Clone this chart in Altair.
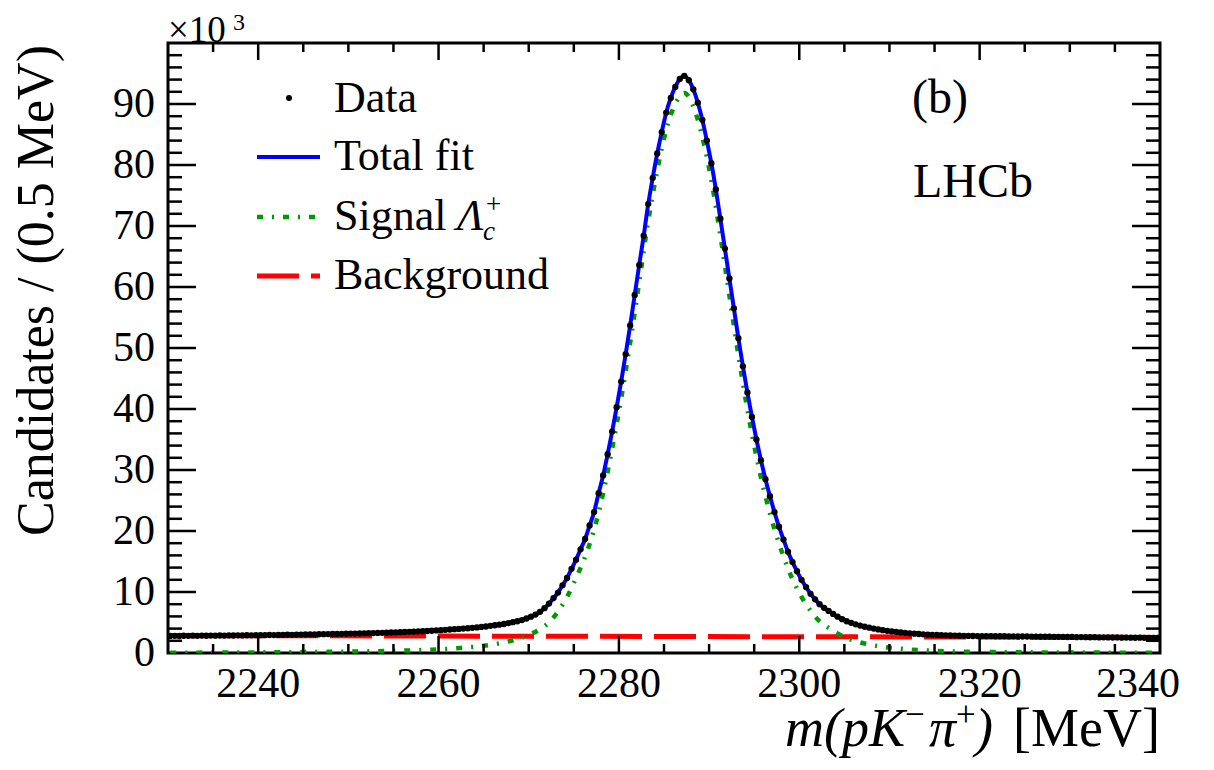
import altair as alt
import pandas as pd

# ---------------- data (values in units of 10^3 candidates) ----------------
bin_first = 2230.25   # centre of first 0.5 MeV bin
bin_width = 0.5
data_counts = [
    2.80, 2.82, 2.79, 2.83, 2.81, 2.84, 2.82, 2.85, 2.83, 2.86, 2.84, 2.87, 2.86, 2.88, 2.87, 2.90, 2.88, 2.91, 2.90, 2.92,
    2.93, 2.92, 2.95, 2.94, 2.97, 2.96, 2.99, 2.98, 3.01, 3.02, 3.03, 3.05, 3.04, 3.07, 3.08, 3.10, 3.11, 3.13, 3.14, 3.16,
    3.18, 3.19, 3.21, 3.23, 3.25, 3.27, 3.29, 3.31, 3.33, 3.36, 3.38, 3.41, 3.44, 3.47, 3.50, 3.54, 3.57, 3.61, 3.65, 3.70,
    3.75, 3.80, 3.85, 3.90, 3.95, 4.00, 4.06, 4.12, 4.19, 4.27,
    4.35, 4.45, 4.55, 4.65, 4.75, 4.90, 5.05, 5.20, 5.40, 5.65,
    5.95, 6.30, 6.75, 7.35, 8.10, 9.00, 9.90, 11.1, 12.3, 13.8, 15.3, 17.0, 18.7, 20.9, 23.1, 26.2, 29.1, 32.6, 36.3, 40.3,
    44.5, 49.0, 53.7, 58.7, 63.6, 68.4, 73.6, 77.9, 81.9, 85.4, 88.6, 91.0, 92.8, 94.1, 94.6, 93.9, 92.4, 90.2, 87.4, 84.0,
    80.3, 76.0, 71.2, 66.3, 61.4, 56.5, 51.6, 47.0, 42.7, 38.7, 35.0, 31.6, 28.5, 25.7, 23.1, 20.7, 18.6, 16.6, 14.9, 13.4,
    12.0, 10.8, 9.7, 8.8, 8.0, 7.4, 6.9, 6.4, 5.95, 5.55, 5.20, 4.95, 4.70, 4.50, 4.30, 4.15, 4.00, 3.87, 3.75, 3.64,
    3.54, 3.45, 3.37, 3.30, 3.23, 3.17, 3.11, 3.06, 3.02, 2.98, 2.95, 2.92, 2.90, 2.87, 2.85, 2.83, 2.82, 2.80, 2.79, 2.78,
    2.77, 2.76, 2.78, 2.75, 2.74, 2.75, 2.72, 2.73, 2.71, 2.70, 2.71, 2.68, 2.69, 2.67, 2.66, 2.67, 2.64, 2.65, 2.63, 2.62,
    2.63, 2.60, 2.61, 2.59, 2.58, 2.59, 2.56, 2.57, 2.55, 2.54, 2.55, 2.52, 2.53, 2.51, 2.50, 2.51, 2.48, 2.49, 2.47, 2.46,
]

signal_first = 2230.25
signal_step = 1.0
signal_vals = [
    0.05, 0.05, 0.06, 0.06, 0.07, 0.07, 0.08, 0.08, 0.09, 0.10,
    0.10, 0.11, 0.12, 0.13, 0.14, 0.15, 0.16, 0.18, 0.19, 0.21,
    0.23, 0.25, 0.27, 0.30, 0.33, 0.36, 0.40, 0.44, 0.49, 0.55,
    0.62, 0.70, 0.80, 0.92, 1.06, 1.23, 1.45, 1.72, 2.07, 2.52,
    3.10, 3.90, 5.00, 6.80, 9.20, 12.3, 15.8, 20.2, 26.2, 33.5,
    41.7, 50.9, 60.8, 70.8, 79.1, 85.8, 90.0, 91.8, 89.6, 84.6,
    77.5, 68.4, 58.6, 48.8, 39.9, 32.2, 25.7, 20.3, 15.8, 12.1,
    9.2, 6.9, 5.2, 4.1, 3.2, 2.45, 1.95, 1.55, 1.25, 1.02,
    0.83, 0.68, 0.56, 0.47, 0.40, 0.34, 0.29, 0.25, 0.22, 0.19,
    0.17, 0.15, 0.14, 0.13, 0.12, 0.11, 0.10, 0.095, 0.09, 0.085,
    0.08, 0.075, 0.07, 0.065, 0.06, 0.06, 0.055, 0.055, 0.05, 0.05,
]

bg_mass = [2230.0, 2340.0]
bg_vals = [2.86, 2.56]

x_labels = [2240, 2260, 2280, 2300, 2320, 2340]
y_labels = [0, 10, 20, 30, 40, 50, 60, 70, 80, 90]
x_major = [2240, 2260, 2280, 2300, 2320]
x_minor = [2235, 2245, 2250, 2255, 2265, 2270, 2275, 2285, 2290, 2295,
           2305, 2310, 2315, 2325, 2330, 2335]
y_major = [10, 20, 30, 40, 50, 60, 70, 80, 90]
y_minor = [2, 4, 6, 8, 12, 14, 16, 18, 22, 24, 26, 28, 32, 34, 36, 38,
           42, 44, 46, 48, 52, 54, 56, 58, 62, 64, 66, 68, 72, 74, 76, 78,
           82, 84, 86, 88, 92, 94, 96, 98]

# ---------------- tables ----------------
df_data = pd.DataFrame({
    "mass": [bin_first + bin_width * i for i in range(len(data_counts))],
    "n": data_counts,
})
df_sig = pd.DataFrame({
    "mass": [signal_first + signal_step * i for i in range(len(signal_vals))],
    "n": signal_vals,
})
df_bg = pd.DataFrame({"mass": bg_mass, "n": bg_vals})
df_xlab = pd.DataFrame({"v": x_labels[:-1], "lbl": [str(v) for v in x_labels[:-1]]})
df_xlab_last = pd.DataFrame({"v": x_labels[-1:], "lbl": [str(v) for v in x_labels[-1:]]})
df_ylab = pd.DataFrame({"v": y_labels, "lbl": [str(v) for v in y_labels]})
one = pd.DataFrame({"k": [0]})

W, H = 992, 610
SERIF = "Liberation Serif"
BLUE, GREEN, RED = "#0000ff", "#009a00", "#ff0000"
SIG_DASH = [6, 9, 2, 9]
BG_DASH = [42, 12]
TF = 42

xs = alt.Scale(domain=[2230, 2340], nice=False, zero=False)
ys = alt.Scale(domain=[0, 100], nice=False, zero=True)

# ---------------- curves and points ----------------
bg_line = alt.Chart(df_bg).mark_line(color=RED, strokeWidth=5, strokeDash=BG_DASH, clip=True).encode(
    x=alt.X("mass:Q", scale=xs, axis=None), y=alt.Y("n:Q", scale=ys, axis=None))

sig_line = alt.Chart(df_sig).mark_line(color=GREEN, strokeWidth=4.5, strokeDash=SIG_DASH,
                                       interpolate="monotone", clip=True).encode(
    x=alt.X("mass:Q", scale=xs, axis=None), y=alt.Y("n:Q", scale=ys, axis=None))

tot_line = alt.Chart(df_data).mark_line(color=BLUE, strokeWidth=4, interpolate="monotone", clip=True).encode(
    x=alt.X("mass:Q", scale=xs, axis=None), y=alt.Y("n:Q", scale=ys, axis=None))

points = alt.Chart(df_data).mark_circle(size=40, color="black", opacity=1, clip=True).encode(
    x=alt.X("mass:Q", scale=xs, axis=None), y=alt.Y("n:Q", scale=ys, axis=None))

# ---------------- tick labels through the scales ----------------
xlab = alt.Chart(df_xlab).mark_text(font=SERIF, fontSize=TF, color="black", align="center",
                                    baseline="top").encode(
    x=alt.X("v:Q", scale=xs, axis=None), y=alt.value(H + 11), text="lbl:N")
xlab_last = alt.Chart(df_xlab_last).mark_text(font=SERIF, fontSize=TF, color="black", align="center",
                                              baseline="top", dx=-22).encode(
    x=alt.X("v:Q", scale=xs, axis=None), y=alt.value(H + 11), text="lbl:N")
ylab = alt.Chart(df_ylab).mark_text(font=SERIF, fontSize=TF, color="black", align="right",
                                    baseline="middle").encode(
    y=alt.Y("v:Q", scale=ys, axis=None), x=alt.value(-13), text="lbl:N")

# ---------------- inward ticks (ROOT style) ----------------
def yticks(vals, length):
    d = pd.DataFrame({"v": vals})
    left = alt.Chart(d).mark_rule(color="black", strokeWidth=2.5).encode(
        y=alt.Y("v:Q", scale=ys, axis=None), x=alt.value(0), x2=alt.value(length))
    right = alt.Chart(d).mark_rule(color="black", strokeWidth=2.5).encode(
        y=alt.Y("v:Q", scale=ys, axis=None), x=alt.value(W - length), x2=alt.value(W))
    return [left, right]

def xticks(vals, length):
    d = pd.DataFrame({"v": vals})
    bottom = alt.Chart(d).mark_rule(color="black", strokeWidth=2.5).encode(
        x=alt.X("v:Q", scale=xs, axis=None), y=alt.value(H - length), y2=alt.value(H))
    top = alt.Chart(d).mark_rule(color="black", strokeWidth=2.5).encode(
        x=alt.X("v:Q", scale=xs, axis=None), y=alt.value(0), y2=alt.value(length))
    return [bottom, top]

ticks = yticks(y_major, 28) + yticks(y_minor, 14) + xticks(x_major, 17) + xticks(x_minor, 9)

# ---------------- text helpers ----------------
def txt(s, x, y, size, italic=False, align="left", baseline="alphabetic", angle=0):
    return alt.Chart(one).mark_text(
        text=s, font=SERIF, fontSize=size, fontStyle="italic" if italic else "normal",
        align=align, baseline=baseline, angle=angle, color="black").encode(
        x=alt.value(x), y=alt.value(y))

def seg(x1, x2, y, color, width, dash=None):
    kw = dict(color=color, strokeWidth=width)
    if dash:
        kw["strokeDash"] = dash
    return alt.Chart(one).mark_rule(**kw).encode(x=alt.value(x1), x2=alt.value(x2), y=alt.value(y))

LF = 44
legend = [
    alt.Chart(one).mark_circle(size=36, color="black", opacity=1).encode(x=alt.value(121), y=alt.value(55)),
    txt("Data", 166, 69, LF),
    seg(89, 152, 114, BLUE, 4),
    txt("Total fit", 166, 127, LF),
    seg(89, 152, 174, GREEN, 4.5, SIG_DASH),
    txt("Signal", 166, 187, LF),
    txt("\u039b", 289, 187, LF, italic=True),
    txt("c", 315, 197, 27, italic=True),
    txt("+", 318, 170, 27),
    seg(89, 152, 233, RED, 5, BG_DASH),
    txt("Background", 166, 246, LF),
]

labels = [
    txt("(b)", 744, 70, 48),
    txt("LHCb", 745, 154, 48),
    # multiplier
    txt("\u00d710", 0, -1, 37),
    txt("3", 65, -13, 24),
    # y title
    txt("Candidates / (0.5 MeV)", -115, 2, 52, align="right", angle=270),
    # x title
    txt("m(pK", 617, 703, 54, italic=True),
    txt("\u2212", 737, 683, 35),
    txt("\u03c0", 761, 703, 54, italic=True),
    txt("+", 788, 683, 35),
    txt(")", 807, 703, 54, italic=True),
    txt("[MeV]", 992, 703, 54, align="right"),
]

chart = alt.layer(
    bg_line, sig_line, tot_line, points, xlab, xlab_last, ylab, *ticks, *legend, *labels
).properties(
    width=W, height=H,
    padding={"left": 160, "top": 35, "right": 46, "bottom": 109},
    autosize=alt.AutoSizeParams(type="none"),
).configure_view(
    stroke="black", strokeWidth=3
)

chart.save("out.html", embed_options={"renderer": "svg", "actions": False})
